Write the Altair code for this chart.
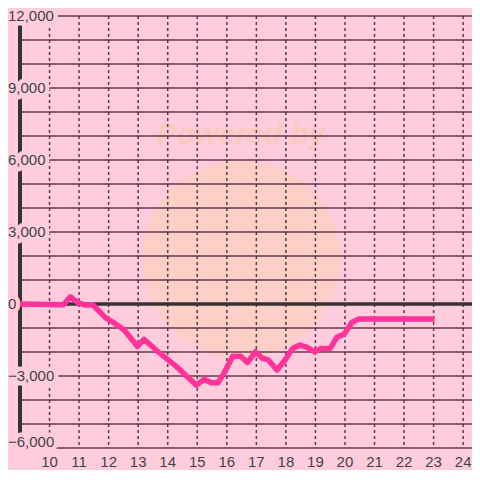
import altair as alt
import pandas as pd

# ---- data ----
hours = [9.0, 10.47, 10.7, 10.97, 11.2, 11.47, 11.9, 12.2, 12.53, 12.97, 13.2, 13.73,
         14.3, 14.97, 15.23, 15.47, 15.7, 15.9, 16.2, 16.47, 16.7, 16.97, 17.2, 17.4,
         17.7, 17.97, 18.23, 18.47, 18.7, 18.97, 19.2, 19.5, 19.73, 19.97, 20.07, 20.23,
         20.47, 23.03]
values = [0, -30, 300, 50, -40, -40, -580, -800, -1080, -1760, -1470, -2050,
          -2610, -3380, -3140, -3280, -3280, -2890, -2180, -2180, -2440, -1990, -2260, -2330,
          -2750, -2330, -1850, -1710, -1800, -1990, -1850, -1850, -1380, -1260, -1080, -770,
          -625, -625]
grid_y = list(range(-6000, 12001, 1000))
y_ticks = [12000, 9000, 6000, 3000, 0, -3000]
y_tick_bottom = [-6000]
x_ticks = list(range(10, 25))

BG = "#ffccdd"
GRID = "#5c3a4a"
TXT = "#444444"
W, H = 452, 432

xs = alt.Scale(domain=[9, 24.3], nice=False, zero=False)
ys = alt.Scale(domain=[-6000, 12000], nice=False, zero=False)

line_df = pd.DataFrame({"h": hours, "v": values})
grid_df = pd.DataFrame({"v": grid_y})
vgrid_df = pd.DataFrame({"h": x_ticks})
ylab_df = pd.DataFrame({"v": y_ticks})
ylab_b_df = pd.DataFrame({"v": y_tick_bottom})
xlab_df = pd.DataFrame({"h": x_ticks})

base_x = alt.X("h:Q", scale=xs, axis=None)
base_y = alt.Y("v:Q", scale=ys, axis=None)

# watermark
wm_circle = alt.Chart(pd.DataFrame({"a": [0]})).mark_point(
    filled=True, color="#fcd0c4", opacity=0.9, size=39000, shape="circle"
).encode(x=alt.value(221), y=alt.value(243))
wm_text = alt.Chart(pd.DataFrame({"a": ["Powered by"]})).mark_text(
    fontSize=30, fontWeight="bold", fontStyle="italic", font="Liberation Sans",
    color="#f8cbbf", align="center", baseline="middle"
).encode(x=alt.value(221), y=alt.value(119), text="a:N")

hgrid = alt.Chart(grid_df).mark_rule(color=GRID, strokeWidth=1.5).encode(
    y=base_y, x=alt.value(0), x2=alt.value(W)
)
vgrid = alt.Chart(vgrid_df).mark_rule(color=GRID, strokeWidth=1.5, strokeDash=[3, 3]).encode(
    x=base_x, y=alt.value(0), y2=alt.value(H)
)
yaxis = alt.Chart(pd.DataFrame({"h": [9]})).mark_rule(color="#333333", strokeWidth=4).encode(
    x=base_x, y=alt.value(0), y2=alt.value(H)
)
zero = alt.Chart(pd.DataFrame({"v": [0]})).mark_rule(color="#333333", strokeWidth=3.5).encode(
    y=base_y, x=alt.value(0), x2=alt.value(W)
)

data_line = alt.Chart(line_df).mark_line(color="#ff3399", strokeWidth=5.5, strokeJoin="round").encode(
    x=base_x, y=base_y
)

def ylabels(df, dy):
    knock = alt.Chart(df).mark_text(
        align="left", baseline="middle", fontSize=15, font="Liberation Sans",
        color=BG, stroke=BG, strokeWidth=9, strokeJoin="round", dy=dy
    ).encode(y=base_y, x=alt.value(-12), text=alt.Text("v:Q", format=",d"))
    txt = alt.Chart(df).mark_text(
        align="left", baseline="middle", fontSize=15, font="Liberation Sans",
        color=TXT, dy=dy
    ).encode(y=base_y, x=alt.value(-12), text=alt.Text("v:Q", format=",d"))
    return knock, txt

k1, t1 = ylabels(ylab_df, 0)
k2, t2 = ylabels(ylab_b_df, -6)

xlab = alt.Chart(xlab_df).mark_text(
    align="center", baseline="middle", fontSize=15, font="Liberation Sans", color=TXT
).encode(x=base_x, y=alt.value(H + 14), text=alt.Text("h:Q", format="d"))

chart = alt.layer(
    wm_circle, wm_text, hgrid, vgrid, yaxis, zero, k1, k2, data_line, t1, t2, xlab
).properties(
    width=W, height=H,
    autosize=alt.AutoSizeParams(type="none"),
    padding={"left": 12, "top": 8, "right": 0, "bottom": 22},
    background=BG,
).configure_view(stroke=None)

chart.save("out.html", embed_options={"renderer": "svg", "actions": False})
